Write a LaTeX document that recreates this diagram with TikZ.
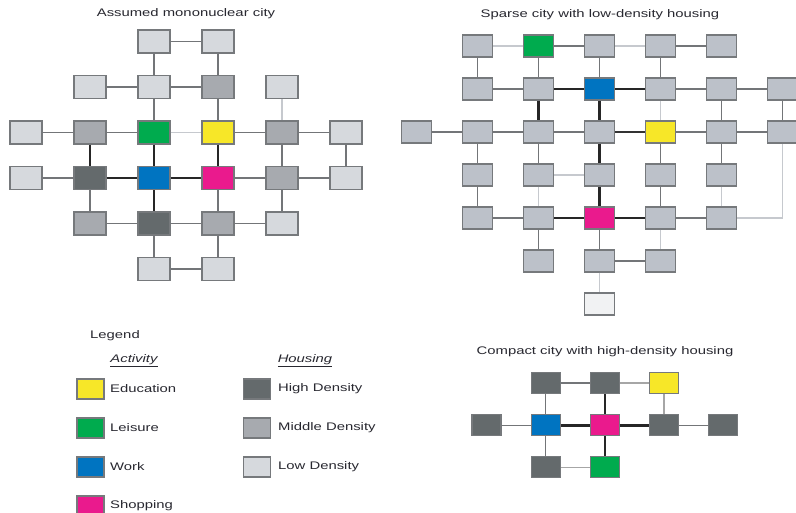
\documentclass[tikz,border=0pt]{standalone}
\usepackage{fontspec}
\setmainfont{Liberation Sans}
\usetikzlibrary{positioning}
\definecolor{hdgray}{RGB}{100, 106, 108}
\definecolor{mdgray}{RGB}{167, 170, 175}
\definecolor{ldgray}{RGB}{214, 217, 221}
\definecolor{spgray}{RGB}{188, 193, 201}
\definecolor{vlgray}{RGB}{241, 242, 243}
\definecolor{eduyellow}{RGB}{247, 231, 40}
\definecolor{leigreen}{RGB}{0, 171, 78}
\definecolor{workblue}{RGB}{0, 116, 193}
\definecolor{shopmagenta}{RGB}{234, 26, 141}
\definecolor{boxedge}{RGB}{118, 121, 124}
\definecolor{roadgray}{RGB}{115, 117, 120}
\definecolor{lanegray}{RGB}{198, 201, 206}
\definecolor{txtgray}{RGB}{40, 40, 48}
\newcommand{\stretchtxt}[1]{\scalebox{1.35}[1]{#1}}
\tikzset{
    cell/.style={
        rectangle, draw=boxedge, line width=1.1pt, inner sep=0pt,
        minimum width=32pt, minimum height=23pt
    },
    hdbox/.style={cell, fill=hdgray},
    mdbox/.style={cell, fill=mdgray},
    ldbox/.style={cell, fill=ldgray},
    spbox/.style={cell, fill=spgray, minimum width=30pt, minimum height=22pt},
    vlbox/.style={spbox, fill=vlgray},
    edubox/.style={cell, fill=eduyellow},
    leibox/.style={cell, fill=leigreen},
    workbox/.style={cell, fill=workblue},
    shopbox/.style={cell, fill=shopmagenta},
    road/.style={line width=1.4pt, color=roadgray},
    lane/.style={line width=1.3pt, color=lanegray},
    mainroad/.style={line width=2.8pt, color=black!85},
    title/.style={font=\fontsize{11}{13}\selectfont, text=txtgray, inner sep=0pt},
    keytext/.style={title, anchor=west},
}

\begin{document}
\begin{tikzpicture}[x=1pt, y=-1pt]
    \useasboundingbox[fill=white] (0, 0) rectangle (796, 513);

    % assumed mononuclear city
    \node[title] (titlemono) at (186, 14) {\stretchtxt{Assumed mononuclear city}};
    \foreach \r/\c/\s in {1/3/ldbox, 1/4/ldbox,
        2/2/ldbox, 2/3/ldbox, 2/4/mdbox, 2/5/ldbox,
        3/1/ldbox, 3/2/mdbox, 3/3/leibox, 3/4/edubox, 3/5/mdbox, 3/6/ldbox,
        4/1/ldbox, 4/2/hdbox, 4/3/workbox, 4/4/shopbox, 4/5/mdbox, 4/6/ldbox,
        5/2/mdbox, 5/3/hdbox, 5/4/mdbox, 5/5/ldbox,
        6/3/ldbox, 6/4/ldbox}
        \node[\s] (m\r\c) at ({26+64*(\c-1)}, {41.5+45.5*(\r-1)}) {};
    \foreach \a/\b in {m13/m14, m22/m23, m23/m24, m31/m32, m32/m33, m34/m35,
        m35/m36, m41/m42, m44/m45, m45/m46, m52/m53, m53/m54, m54/m55, m63/m64,
        m13/m23, m14/m24, m23/m33, m24/m34, m35/m45, m36/m46, m42/m52, m44/m54,
        m45/m55, m53/m63, m54/m64}
        \draw[road] (\a) -- (\b);
    \draw[lane] (m33) -- (m34);
    \draw[lane] (m25) -- (m35);
    \foreach \a/\b in {m42/m43, m43/m44, m32/m42, m33/m43, m34/m44, m43/m53}
        \draw[mainroad] (\a) -- (\b);

    % sparse city
    \node[title] (titlesparse) at (600, 15) {\stretchtxt{Sparse city with low-density housing}};
    \foreach \r/\c/\s in {1/2/spbox, 1/3/leibox, 1/4/spbox, 1/5/spbox, 1/6/spbox,
        2/2/spbox, 2/3/spbox, 2/4/workbox, 2/5/spbox, 2/6/spbox, 2/7/spbox,
        3/1/spbox, 3/2/spbox, 3/3/spbox, 3/4/spbox, 3/5/edubox, 3/6/spbox, 3/7/spbox,
        4/2/spbox, 4/3/spbox, 4/4/spbox, 4/5/spbox, 4/6/spbox,
        5/2/spbox, 5/3/spbox, 5/4/shopbox, 5/5/spbox, 5/6/spbox,
        6/3/spbox, 6/4/spbox, 6/5/spbox,
        7/4/vlbox}
        \node[\s, minimum width=30pt, minimum height=22pt] (s\r\c) at ({416.5+61*(\c-1)}, {46+43*(\r-1)}) {};
    \foreach \a/\b in {s13/s14, s15/s16, s22/s23, s25/s26, s26/s27, s31/s32,
        s32/s33, s33/s34, s35/s36, s36/s37, s52/s53, s55/s56, s64/s65,
        s12/s22, s13/s23, s14/s24, s15/s25, s26/s36, s27/s37, s32/s42, s33/s43,
        s35/s45, s36/s46, s42/s52, s45/s55, s53/s63, s54/s64}
        \draw[road] (\a) -- (\b);
    \foreach \a/\b in {s12/s13, s14/s15, s43/s44, s25/s35, s43/s53, s46/s56,
        s55/s65, s64/s74}
        \draw[lane] (\a) -- (\b);
    \draw[lane] (s56) -| (s37);
    \draw[road, line width=1.8pt, color=black!80] (s34) -- (s35);
    \foreach \a/\b in {s23/s24, s24/s25, s53/s54, s54/s55, s23/s33, s24/s34,
        s34/s44, s44/s54}
        \draw[mainroad] (\a) -- (\b);

    % legend
    \node[title] (legendhead) at (115, 336) {\stretchtxt{Legend}};
    \node[title] (activityhead) at (134, 361) {\stretchtxt{\itshape\underline{Activity}}};
    \node[title] (housinghead) at (305, 361) {\stretchtxt{\itshape\underline{Housing}}};
    \foreach \y/\s/\t/\n in {389/edubox/Education/edu, 428/leibox/Leisure/lei,
        467/workbox/Work/work, 506/shopbox/Shopping/shop}{
        \node[\s, minimum width=27pt, minimum height=20pt] (key\n) at (90.5, \y) {};
        \node[keytext] (keytxt\n) at (110, \y) {\stretchtxt{\t}};
    }
    \foreach \y/\s/\t/\n in {389/hdbox/High Density/hd, 428/mdbox/Middle Density/md,
        467/ldbox/Low Density/ld}{
        \node[\s, minimum width=27pt, minimum height=20pt] (key\n) at (257, \y) {};
        \node[keytext] (keytxt\n) at (278, \y) {\stretchtxt{\t}};
    }

    % compact city
    \node[title] (titlecompact) at (605, 352) {\stretchtxt{Compact city with high-density housing}};
    \foreach \r/\c/\s in {1/2/hdbox, 1/3/hdbox, 1/4/edubox,
        2/1/hdbox, 2/2/workbox, 2/3/shopbox, 2/4/hdbox, 2/5/hdbox,
        3/2/hdbox, 3/3/leibox}
        \node[\s, minimum width=29pt, minimum height=21pt] (c\r\c) at ({486.5+59.2*(\c-1)}, {383+42.2*(\r-1)}) {};
    \foreach \a/\b in {c12/c13, c21/c22, c24/c25, c12/c22, c22/c32}
        \draw[road] (\a) -- (\b);
    \foreach \a/\b in {c13/c14, c14/c24, c32/c33}
        \draw[road, color=gray!70] (\a) -- (\b);
    \foreach \a/\b in {c22/c23, c23/c24, c13/c23, c23/c33}
        \draw[mainroad] (\a) -- (\b);
\end{tikzpicture}
\end{document}
